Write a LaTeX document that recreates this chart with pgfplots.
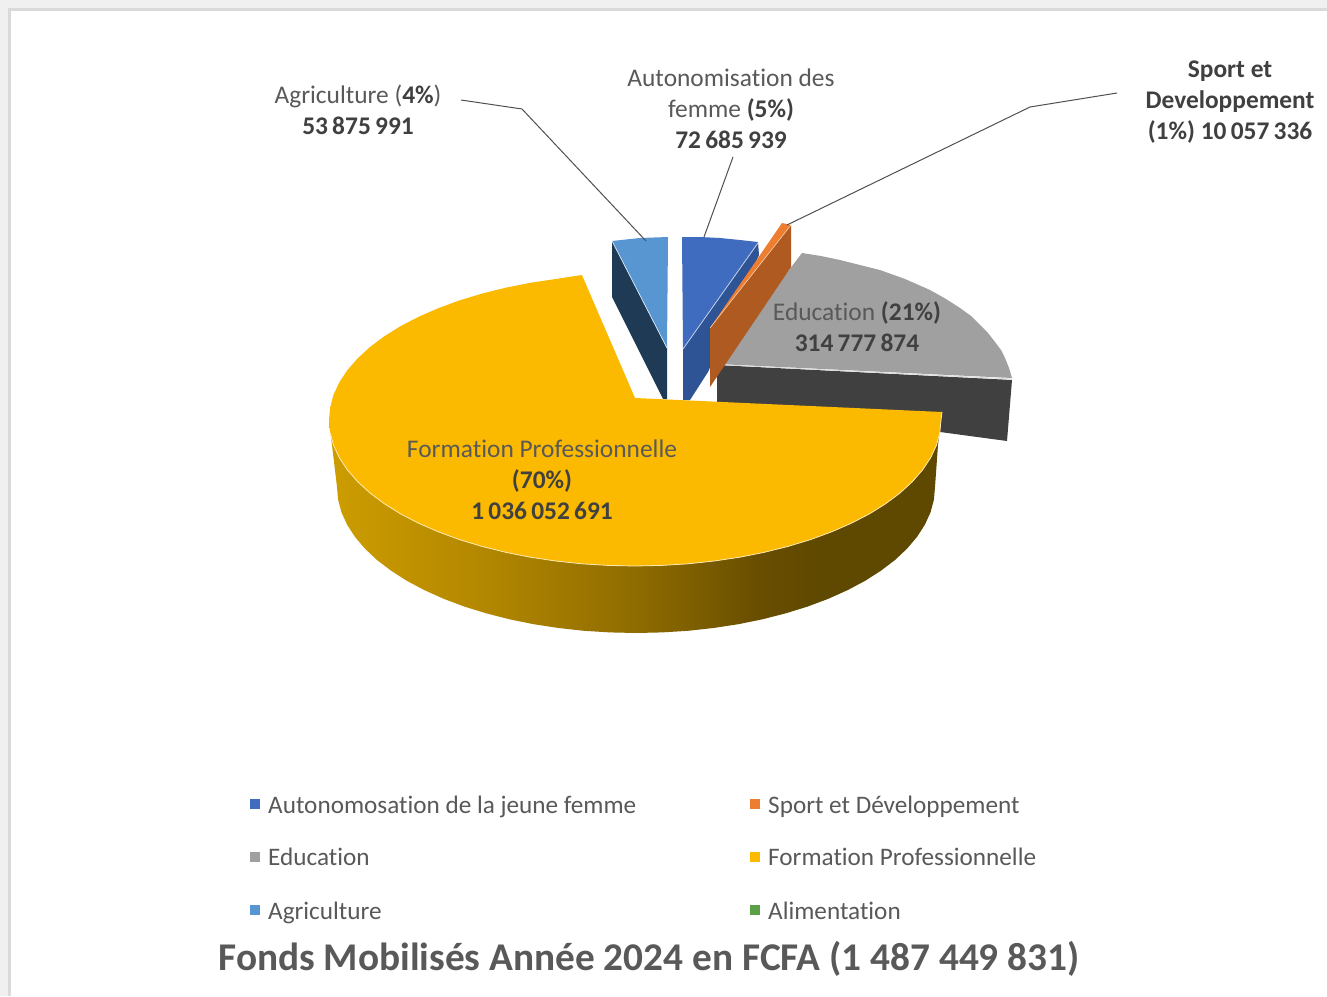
\documentclass[border=0pt]{standalone}
\usepackage{fontspec}
\setmainfont[Ligatures=NoCommon]{Carlito}
\usepackage{pgfplots}
\pgfplotsset{compat=1.18}
\definecolor{pagebg}{RGB}{240,240,240}
\definecolor{pageedge}{RGB}{218,218,218}
\definecolor{yelTop}{RGB}{251,185,0}
\definecolor{greyTop}{RGB}{160,160,160}
\definecolor{greySide}{RGB}{64,64,64}
\definecolor{agriTop}{RGB}{88,150,210}
\definecolor{agriSide}{RGB}{30,58,84}
\definecolor{bluTop}{RGB}{64,108,192}
\definecolor{bluSide}{RGB}{46,84,150}
\definecolor{oraTop}{RGB}{237,125,49}
\definecolor{oraSide}{RGB}{174,90,32}
\definecolor{txt}{RGB}{89,89,89}
\definecolor{txtb}{RGB}{64,64,64}
\definecolor{leader}{RGB}{80,80,80}
\definecolor{legG}{RGB}{90,160,70}
\definecolor{ys1}{RGB}{205,157,0}
\definecolor{ys2}{RGB}{180,136,0}
\definecolor{ys3}{RGB}{143,108,0}
\definecolor{ys4}{RGB}{105,78,0}
\definecolor{ys5}{RGB}{95,72,0}
\pgfdeclarehorizontalshading{yelside}{100bp}{
 color(0bp)=(ys1);
 color(25bp)=(ys1);
 color(37bp)=(ys2);
 color(50bp)=(ys3);
 color(60bp)=(ys4);
 color(65bp)=(ys5);
 color(100bp)=(ys5)}
\tikzset{lab/.style={font=\fontsize{25.4}{31}\selectfont, text=txt, align=center, inner sep=0pt},
 leg/.style={font=\fontsize{25.2}{30}\selectfont, text=txt, inner sep=0pt, anchor=base west}}
\pgfplotsset{key/.style={only marks, mark=square*, mark size=4.5pt, mark options={draw=#1, fill=#1}}}
\begin{document}
\begin{tikzpicture}
\begin{axis}[
  scale only axis, width=1327pt, height=996pt,
  xmin=0, xmax=1327, ymin=0, ymax=996, y dir=reverse,
  hide axis, clip=true,
]
% page
\addplot[draw=none, fill=pagebg] coordinates {(0,0)(1327,0)(1327,996)(0,996)} -- cycle;
\addplot[draw=none, fill=pageedge] coordinates {(8,8)(1327,8)(1327,996)(8,996)} -- cycle;
\addplot[draw=none, fill=white] coordinates {(11,11)(1327,11)(1327,996)(11,996)} -- cycle;
% Education
\addplot[draw=none, fill=greySide] coordinates {(717,365)(1012,380)(1007,441)(717,402)} -- cycle;
\addplot[draw=none, fill=greyTop] coordinates {(802,253)(821,256)(840,260)(860,265)(880,270)(905,279)(930,290)(946,299)(960,308)(971,316)(980,325)(988,333)(995,342)(1001,350)(1005,358)(1009,368)(1012,378)(717,364)} -- cycle;
\addplot[draw=white!85!black, line width=0.8pt] coordinates {(717,364.5)(1012,379)};
% Agriculture
\addplot[draw=none, fill=agriSide] coordinates {(612,241)(612,297)(663,399)(667,399)(667,348)} -- cycle;
\addplot[draw=none, fill=agriTop] coordinates {(612,241)(626,239.5)(640,238)(668,237)(667,348)} -- cycle;
\addplot[draw=white!80!agriTop, line width=0.7pt] coordinates {(612,241)(667,348)};
% Autonomisation
\addplot[draw=none, fill=bluSide] coordinates {(758,242)(759,255)(708,372)(690,400)(683,400)(683,349)} -- cycle;
\addplot[draw=none, fill=bluTop] coordinates {(682,237)(700,237)(720,238)(740,240)(758,242)(683,349)} -- cycle;
\addplot[draw=white!75!bluTop, line width=0.7pt] coordinates {(758,243)(683,349)};
% Sport
\addplot[draw=none, fill=oraSide] coordinates {(791,225)(791,267)(710,387)(710,328)} -- cycle;
\addplot[draw=none, fill=oraTop] coordinates {(782,223)(791,225)(710,328)} -- cycle;
\addplot[draw=white!60!oraTop, line width=0.6pt] coordinates {(791,225)(710,328)};
% Formation professionnelle: side
\addplot[draw=none, shade, shading=yelside] coordinates {(329,420)(330.2,432.7)(333.6,445.4)(339.4,457.8)(347.4,469.9)(357.7,481.7)(370,493)(384.3,503.7)(400.6,513.9)(418.6,523.2)(438.3,531.8)(459.5,539.6)(482,546.4)(505.7,552.3)(530.3,557.2)(555.8,561)(581.9,563.8)(608.3,565.4)(635,566)(661.7,565.4)(688.1,563.8)(714.2,561)(739.7,557.2)(764.3,552.3)(788,546.4)(810.5,539.6)(831.7,531.8)(851.4,523.2)(869.4,513.9)(885.7,503.7)(900,493)(912.3,481.7)(922.6,469.9)(930.6,457.8)(936.4,445.4)(942,412)(938,445)(935,487)(933.9,499.7)(930.5,512.4)(924.8,524.8)(917,536.9)(907,548.7)(895,560)(880.9,570.7)(865,580.9)(847.4,590.2)(828.3,598.8)(807.5,606.6)(785.5,613.4)(762.4,619.3)(738.3,624.2)(713.4,628)(688,630.8)(662.1,632.4)(636,633)(609.9,632.4)(584,630.8)(558.6,628)(533.7,624.2)(509.6,619.3)(486.5,613.4)(464.5,606.6)(443.7,598.8)(424.6,590.2)(407,580.9)(391.1,570.7)(377,560)(365,548.7)(355,536.9)(347.2,524.8)(341.5,512.4)(338.1,499.7)(337,487)} -- cycle;
% Formation professionnelle: top
\addplot[draw=none, fill=yelTop] coordinates {(635,398)(942,412)(941,420)(939.8,432.7)(936.4,445.4)(930.6,457.8)(922.6,469.9)(912.3,481.7)(900,493)(885.7,503.7)(869.4,513.9)(851.4,523.2)(831.7,531.8)(810.5,539.6)(788,546.4)(764.3,552.3)(739.7,557.2)(714.2,561)(688.1,563.8)(661.7,565.4)(635,566)(608.3,565.4)(581.9,563.8)(555.8,561)(530.3,557.2)(505.7,552.3)(482,546.4)(459.5,539.6)(438.3,531.8)(418.6,523.2)(400.6,513.9)(384.3,503.7)(370,493)(357.7,481.7)(347.4,469.9)(339.4,457.8)(333.6,445.4)(330.2,432.7)(329,420)(330.2,407.3)(333.6,394.6)(339.4,382.2)(347.4,370.1)(357.7,358.3)(370,347)(384.3,336.3)(400.6,326.1)(418.6,316.8)(438.3,308.2)(459.5,300.4)(482,293.6)(505.7,287.7)(530.3,282.8)(555.8,279)(581.9,275)} -- cycle;
\addplot[draw=white!70!yelTop, line width=0.8pt] coordinates {(942,412)(941,420)(939.8,432.7)(936.4,445.4)(930.6,457.8)(922.6,469.9)(912.3,481.7)(900,493)(885.7,503.7)(869.4,513.9)(851.4,523.2)(831.7,531.8)(810.5,539.6)(788,546.4)(764.3,552.3)(739.7,557.2)(714.2,561)(688.1,563.8)(661.7,565.4)(635,566)(608.3,565.4)(581.9,563.8)(555.8,561)(530.3,557.2)(505.7,552.3)(482,546.4)(459.5,539.6)(438.3,531.8)(418.6,523.2)(400.6,513.9)(384.3,503.7)(370,493)(357.7,481.7)(347.4,469.9)(339.4,457.8)(333.6,445.4)(330.2,432.7)};
% leaders
\addplot[draw=leader, line width=1pt] coordinates {(461,100)(522,109)(646,241)};
\addplot[draw=leader, line width=1pt] coordinates {(733,157)(704,237)};
\addplot[draw=leader, line width=1pt] coordinates {(1117,93)(1030,107)(787,225)};
% legend keys
\addplot[key=bluTop] coordinates {(255,804)};
\addplot[key=oraTop] coordinates {(755,804)};
\addplot[key=greyTop] coordinates {(255,857)};
\addplot[key=yelTop] coordinates {(755,857)};
\addplot[key=agriTop] coordinates {(255,910)};
\addplot[key=legG] coordinates {(755,910)};
% legend text
\node[leg] at (axis cs:268,813) {Autonomosation de la jeune femme};
\node[leg] at (axis cs:768,813) {Sport et Développement};
\node[leg] at (axis cs:268,865) {Education};
\node[leg] at (axis cs:768,865) {Formation Professionnelle};
\node[leg] at (axis cs:268,919) {Agriculture};
\node[leg] at (axis cs:768,919) {Alimentation};
% data labels
\node[lab] at (axis cs:358,110) {Agriculture (\textcolor{txtb}{\textbf{4\%}})\\\textcolor{txtb}{\textbf{53\,875\,991}}};
\node[lab] at (axis cs:731,109) {Autonomisation des\\femme \textcolor{txtb}{\textbf{(5\%)}}\\\textcolor{txtb}{\textbf{72\,685\,939}}};
\node[lab] at (axis cs:1230,102.5) {\textcolor{txtb}{\textbf{Sport et}}\\\textcolor{txtb}{\textbf{Developpement}}\\\textcolor{txtb}{\textbf{(1\%) 10\,057\,336}}};
\node[lab] at (axis cs:857,327) {Education \textcolor{txtb}{\textbf{(21\%)}}\\\textcolor{txtb}{\textbf{314\,777\,874}}};
\node[lab] at (axis cs:542,480) {Formation Professionnelle\\\textcolor{txtb}{\textbf{(70\%)}}\\\textcolor{txtb}{\textbf{1\,036\,052\,691}}};
% title
\node[lab, font=\fontsize{39.3}{42}\selectfont\bfseries] at (axis cs:649,959) {Fonds Mobilisés Année 2024 en FCFA (1 487 449 831)};
\end{axis}
\end{tikzpicture}
\end{document}
